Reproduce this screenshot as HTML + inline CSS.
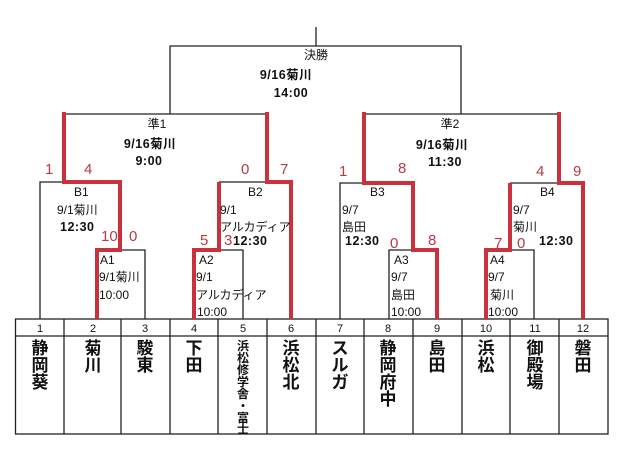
<!DOCTYPE html>
<html><head><meta charset="utf-8"><style>
html,body{margin:0;padding:0;background:#fff;}
svg{display:block;}
text{font-family:"Liberation Sans","Noto Sans CJK JP",sans-serif;}
.s{font-size:12px;fill:#111;}
.b{font-size:12.5px;font-weight:bold;fill:#111;letter-spacing:0.5px;}
.r{font-size:15px;fill:#b83a45;}
.n{font-size:11px;fill:#111;}
.t{font-size:17px;font-weight:bold;fill:#111;}
.t2{font-size:12px;font-weight:bold;fill:#111;}
</style></head><body>
<svg width="640" height="453" viewBox="0 0 640 453" xmlns="http://www.w3.org/2000/svg">
<g stroke="#222" stroke-width="1.3" fill="none">
<line x1="316" y1="27" x2="316" y2="46"/>
<polyline points="170,114 170,46 461,46 461,114"/>
<line x1="64" y1="114" x2="267" y2="114"/>
<line x1="364" y1="114" x2="559" y2="114"/>
<polyline points="40,319 40,182 64,182"/>
<polyline points="120,250 145,250 145,319"/>
<line x1="219" y1="182" x2="267" y2="182"/>
<polyline points="219,250 243,250 243,319"/>
<polyline points="340,319 340,183 364,183"/>
<polyline points="389,319 389,250 413,250"/>
<line x1="510" y1="183" x2="559" y2="183"/>
<polyline points="510,250 534,250 534,319"/>
<rect x="15.5" y="319" width="592.5" height="115"/>
<line x1="15.5" y1="336" x2="608" y2="336"/>
<line x1="64" y1="319" x2="64" y2="434"/>
<line x1="121" y1="319" x2="121" y2="434"/>
<line x1="170" y1="319" x2="170" y2="434"/>
<line x1="218" y1="319" x2="218" y2="434"/>
<line x1="267" y1="319" x2="267" y2="434"/>
<line x1="316" y1="319" x2="316" y2="434"/>
<line x1="364" y1="319" x2="364" y2="434"/>
<line x1="413" y1="319" x2="413" y2="434"/>
<line x1="462" y1="319" x2="462" y2="434"/>
<line x1="510" y1="319" x2="510" y2="434"/>
<line x1="559" y1="319" x2="559" y2="434"/>
</g>
<g stroke="#c9323d" stroke-width="4" fill="none" stroke-linejoin="miter">
<polyline points="64,112 64,182 120,182 120,250 97,250 97,319"/>
<polyline points="267,112 267,182 291,182 291,319"/>
<polyline points="219,182 219,250 194,250 194,319"/>
<polyline points="364,112 364,183 413,183 413,250 437,250 437,319"/>
<polyline points="559,112 559,183 583,183 583,319"/>
<polyline points="510,183 510,250 486,250 486,319"/>
</g>
<text class="s" x="316" y="59" text-anchor="middle">決勝</text>
<text class="b" x="286" y="79" text-anchor="middle">9/16菊川</text>
<text class="b" x="291" y="97" text-anchor="middle">14:00</text>
<text class="s" x="157" y="128" text-anchor="middle">準1</text>
<text class="b" x="150" y="148" text-anchor="middle">9/16菊川</text>
<text class="b" x="149" y="165" text-anchor="middle">9:00</text>
<text class="s" x="450" y="128" text-anchor="middle">準2</text>
<text class="b" x="442" y="149" text-anchor="middle">9/16菊川</text>
<text class="b" x="445" y="166" text-anchor="middle">11:30</text>
<text class="r" x="45" y="174">1</text>
<text class="r" x="84" y="174">4</text>
<text class="r" x="241" y="174">0</text>
<text class="r" x="280" y="174">7</text>
<text class="r" x="339" y="176">1</text>
<text class="r" x="398" y="173">8</text>
<text class="r" x="536" y="176">4</text>
<text class="r" x="573" y="176">9</text>
<text class="r" x="101" y="241">10</text>
<text class="r" x="129" y="241">0</text>
<text class="r" x="200" y="245">5</text>
<text class="r" x="224" y="245">3</text>
<text class="r" x="390" y="248">0</text>
<text class="r" x="428" y="245">8</text>
<text class="r" x="494" y="248">7</text>
<text class="r" x="517" y="248">0</text>
<text class="s" x="74" y="196">B1</text>
<text class="s" x="57" y="214">9/1菊川</text>
<text class="b" x="60" y="231">12:30</text>
<text class="s" x="100" y="264">A1</text>
<text class="s" x="99" y="281">9/1菊川</text>
<text class="s" x="99" y="299">10:00</text>
<text class="s" x="248" y="196">B2</text>
<text class="s" x="220" y="214">9/1</text>
<text class="s" x="220" y="231">アルカディア</text>
<text class="b" x="233" y="245">12:30</text>
<text class="s" x="199" y="264">A2</text>
<text class="s" x="196" y="281">9/1</text>
<text class="s" x="196" y="299">アルカディア</text>
<text class="s" x="197" y="316">10:00</text>
<text class="s" x="370" y="196">B3</text>
<text class="s" x="342" y="214">9/7</text>
<text class="s" x="342" y="231">島田</text>
<text class="b" x="345" y="245">12:30</text>
<text class="s" x="394" y="264">A3</text>
<text class="s" x="391" y="281">9/7</text>
<text class="s" x="391" y="299">島田</text>
<text class="s" x="391" y="316">10:00</text>
<text class="s" x="540" y="196">B4</text>
<text class="s" x="513" y="214">9/7</text>
<text class="s" x="513" y="231">菊川</text>
<text class="b" x="539" y="245">12:30</text>
<text class="s" x="490" y="264">A4</text>
<text class="s" x="488" y="281">9/7</text>
<text class="s" x="490" y="299">菊川</text>
<text class="s" x="488" y="316">10:00</text>
<g text-anchor="middle">
<text class="n" x="40" y="332">1</text><text class="n" x="93" y="332">2</text><text class="n" x="145" y="332">3</text>
<text class="n" x="194" y="332">4</text><text class="n" x="243" y="332">5</text><text class="n" x="291" y="332">6</text>
<text class="n" x="340" y="332">7</text><text class="n" x="388" y="332">8</text><text class="n" x="437" y="332">9</text>
<text class="n" x="486" y="332">10</text><text class="n" x="535" y="332">11</text><text class="n" x="583" y="332">12</text>
</g>
<g text-anchor="middle">
<text class="t" x="40" y="354">静</text><text class="t" x="40" y="371">岡</text><text class="t" x="40" y="388">葵</text>
<text class="t" x="93" y="354">菊</text><text class="t" x="93" y="371">川</text>
<text class="t" x="145" y="354">駿</text><text class="t" x="145" y="371">東</text>
<text class="t" x="194" y="354">下</text><text class="t" x="194" y="371">田</text>
<text class="t2" x="243" y="350">浜</text><text class="t2" x="243" y="362">松</text><text class="t2" x="243" y="374">修</text><text class="t2" x="243" y="386">学</text><text class="t2" x="243" y="398">舎</text><text class="t2" x="243" y="410">・</text><text class="t2" x="243" y="422">富</text><text class="t2" x="243" y="433">士</text>
<text class="t" x="291" y="354">浜</text><text class="t" x="291" y="371">松</text><text class="t" x="291" y="388">北</text>
<text class="t" x="340" y="354">ス</text><text class="t" x="340" y="371">ル</text><text class="t" x="340" y="388">ガ</text>
<text class="t" x="388" y="354">静</text><text class="t" x="388" y="371">岡</text><text class="t" x="388" y="388">府</text><text class="t" x="388" y="405">中</text>
<text class="t" x="437" y="354">島</text><text class="t" x="437" y="371">田</text>
<text class="t" x="486" y="354">浜</text><text class="t" x="486" y="371">松</text>
<text class="t" x="535" y="354">御</text><text class="t" x="535" y="371">殿</text><text class="t" x="535" y="388">場</text>
<text class="t" x="583" y="354">磐</text><text class="t" x="583" y="371">田</text>
</g>
</svg>
</body></html>
